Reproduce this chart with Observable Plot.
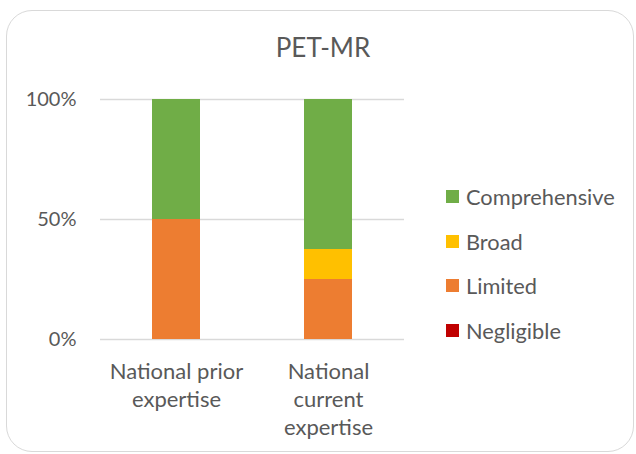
<!DOCTYPE html>
<html><head>
<meta charset="utf-8">
<script src="https://cdn.jsdelivr.net/npm/d3@7"></script>
<script src="https://cdn.jsdelivr.net/npm/@observablehq/plot@0.6"></script>
<style>
body{margin:0;background:#fff;}
#wrap{position:relative;width:636px;height:454px;overflow:hidden;font-family:Lato,sans-serif;color:#595959;}
#frame{position:absolute;left:6px;top:10px;width:628px;height:442px;border:1.5px solid #d9d9d9;border-radius:26px;box-sizing:border-box;}
#chart{position:absolute;left:0;top:0;}
#title{position:absolute;left:0;width:646px;top:31px;text-align:center;font-size:26px;}
#legend{position:absolute;left:446px;top:174px;}
.row{display:flex;align-items:center;height:44.7px;font-size:21.8px;}
.sw{width:13px;height:13px;margin-right:7px;}
</style>
</head><body>
<div id="wrap"><div id="frame"></div><div id="chart"></div><div id="title">PET-MR</div><div id="legend"></div></div>
<script>
const categories = ["National prior expertise", "National current expertise"];
const tickLabels = ["National prior\nexpertise", "National\ncurrent\nexpertise"];
const levels = ["Negligible", "Limited", "Broad", "Comprehensive"];
const colors = ["#C00000", "#ED7D31", "#FFC000", "#70AD47"];
const negligible = [0, 0];
const limited = [50, 25];
const broad = [0, 12.5];
const comprehensive = [50, 62.5];
const yTicks = [0, 50, 100];

const series = [negligible, limited, broad, comprehensive];
const rows = [];
levels.forEach((lv, i) => categories.forEach((c, j) => rows.push({category: c, level: lv, value: series[i][j]})));

const chart = Plot.plot({
  width: 636, height: 454,
  marginLeft: 100, marginRight: 232, marginTop: 99, marginBottom: 115,
  style: {fontFamily: "Lato, sans-serif", color: "#595959", background: "transparent"},
  x: {domain: categories, paddingInner: 0.684, paddingOuter: 0.342, label: null},
  y: {domain: [0, 100], label: null},
  color: {domain: levels, range: colors},
  marks: [
    Plot.gridY(yTicks, {stroke: "#d9d9d9", strokeOpacity: 1, strokeWidth: 1.3}),
    Plot.barY(rows, {x: "category", y: "value", fill: "level", order: levels}),
    Plot.axisY(yTicks, {tickSize: 0, tickPadding: 24, fontSize: 20, tickFormat: d => d + "%", label: null}),
    Plot.axisX({tickSize: 0, tickPadding: 19, fontSize: 22, lineHeight: 1.28, tickFormat: d => tickLabels[categories.indexOf(d)], label: null})
  ]
});
document.getElementById("chart").appendChild(chart);

const legend = document.getElementById("legend");
[...levels].reverse().forEach(lv => {
  const r = document.createElement("div");
  r.className = "row";
  r.innerHTML = `<span class="sw" style="background:${colors[levels.indexOf(lv)]}"></span><span>${lv}</span>`;
  legend.appendChild(r);
});
</script>
</body></html>
